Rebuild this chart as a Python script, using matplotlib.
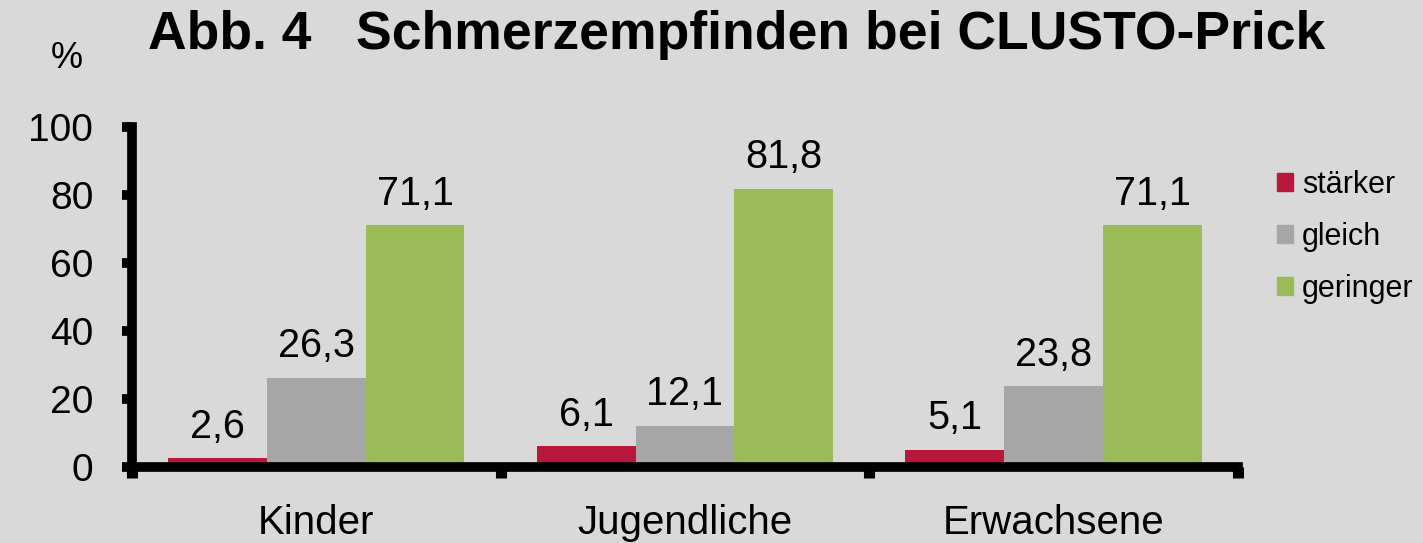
import numpy as np
import matplotlib.pyplot as plt
from matplotlib.patches import Patch

plt.rcParams['font.family'] = ['Liberation Sans', 'DejaVu Sans']

# data
groups = ['Kinder', 'Jugendliche', 'Erwachsene']
series = ['stärker', 'gleich', 'geringer']
staerker = [2.6, 6.1, 5.1]
gleich = [26.3, 12.1, 23.8]
geringer = [71.1, 81.8, 71.1]
colors = ['#b8183c', '#a6a6a6', '#9bbb59']
bg = '#d9d9d9'

fig = plt.figure(figsize=(14.23, 5.43), dpi=100, facecolor=bg)
ax = fig.add_axes([0.0928, 0.14, 0.777, 0.626], facecolor=bg)

x = np.arange(len(groups))
w = 0.268
for i, (vals, col) in enumerate(zip([staerker, gleich, geringer], colors)):
    pos = x + (i - 1) * w
    ax.bar(pos, vals, width=w, color=col, zorder=2)
    for px, v in zip(pos, vals):
        ax.annotate(f'{v:.1f}'.replace('.', ','), (px, v), xytext=(0, 9),
                    textcoords='offset points', ha='center', va='bottom',
                    fontsize=28.5)

ax.set_xlim(-0.5, 2.5)
ax.set_ylim(0, 100)
ax.set_yticks(np.arange(0, 101, 20))
ax.tick_params(axis='y', labelsize=28, length=7, width=7, pad=21, direction='out')

ax.set_xticks(x)
ax.set_xticklabels(groups)
ax.set_xticks([-0.5, 0.5, 1.5, 2.5], minor=True)
ax.tick_params(axis='x', which='major', length=0, labelsize=29, pad=27)
ax.tick_params(axis='x', which='minor', length=8, width=8, direction='out')

for s in ['top', 'right']:
    ax.spines[s].set_visible(False)
for s in ['left', 'bottom']:
    ax.spines[s].set_linewidth(7)

fig.text(0.518, 0.935, 'Abb. 4   Schmerzempfinden bei CLUSTO-Prick',
         ha='center', va='center', fontsize=38.5, fontweight='bold')
fig.text(0.047, 0.893, '%', ha='center', va='center', fontsize=26)

handles = [Patch(color=c) for c in colors]
fig.legend(handles, series, loc='upper left', bbox_to_anchor=(0.889, 0.71),
           frameon=False, fontsize=22, handlelength=0.5, handleheight=0.5,
           handletextpad=0.3, labelspacing=0.72, borderaxespad=0)

fig.savefig('out.png', dpi=100, facecolor=bg)
